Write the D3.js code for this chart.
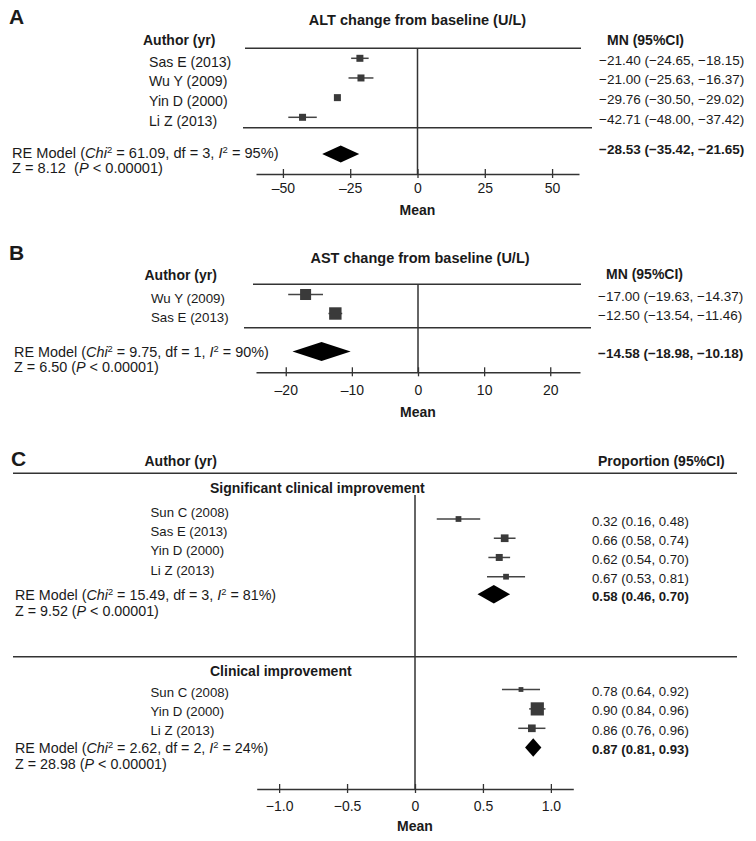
<!DOCTYPE html>
<html><head><meta charset="utf-8">
<script src="https://cdn.jsdelivr.net/npm/d3@7"></script>
<style>
body{margin:0;background:#fff}
text{font-family:"Liberation Sans",Arial,Helvetica,sans-serif;fill:#1a1a1a}
</style>
</head><body>
<svg id="chart" width="756" height="841"></svg>
<script>
// ---------- Panel A: ALT ----------
const studiesA = ["Sas E (2013)", "Wu Y (2009)", "Yin D (2000)", "Li Z (2013)"];
const meanA   = [-21.40, -21.00, -29.76, -42.71];
const lowerA  = [-24.65, -25.63, -30.50, -48.00];
const upperA  = [-18.15, -16.37, -29.02, -37.42];
const weightA = [25, 25, 25, 25];
const pooledA = [-28.53, -35.42, -21.65];
const hetA    = ["61.09", "3", "95%"];
const zA      = "8.12";
const ticksA  = [-50, -25, 0, 25, 50];

// ---------- Panel B: AST ----------
const studiesB = ["Wu Y (2009)", "Sas E (2013)"];
const meanB   = [-17.00, -12.50];
const lowerB  = [-19.63, -13.54];
const upperB  = [-14.37, -11.46];
const weightB = [44, 56];
const pooledB = [-14.58, -18.98, -10.18];
const hetB    = ["9.75", "1", "90%"];
const zB      = "6.50";
const ticksB  = [-20, -10, 0, 10, 20];

// ---------- Panel C1: Significant clinical improvement ----------
const studiesC1 = ["Sun C (2008)", "Sas E (2013)", "Yin D (2000)", "Li Z (2013)"];
const meanC1   = [0.32, 0.66, 0.62, 0.67];
const lowerC1  = [0.16, 0.58, 0.54, 0.53];
const upperC1  = [0.48, 0.74, 0.70, 0.81];
const weightC1 = [19, 34, 28, 19];
const pooledC1 = [0.58, 0.46, 0.70];
const hetC1    = ["15.49", "3", "81%"];
const zC1      = "9.52";

// ---------- Panel C2: Clinical improvement ----------
const studiesC2 = ["Sun C (2008)", "Yin D (2000)", "Li Z (2013)"];
const meanC2   = [0.78, 0.90, 0.86];
const lowerC2  = [0.64, 0.84, 0.76];
const upperC2  = [0.92, 0.96, 0.96];
const weightC2 = [9, 68, 23];
const pooledC2 = [0.87, 0.81, 0.93];
const hetC2    = ["2.62", "2", "24%"];
const zC2      = "28.98";
const ticksC   = [-1.0, -0.5, 0, 0.5, 1.0];

const pText = "0.00001";

// ---------- helpers ----------
const svg = d3.select("#chart");
const FONT = '"Liberation Sans",Arial,Helvetica,sans-serif';
const minus = s => s.replace(/-/g, "\u2013");
const f2 = v => minus(d3.format(".2f")(v));
const ciLabel = (m, l, u) => `${f2(m)} (${f2(l)}, ${f2(u)})`;
const LINE = "#333";

function txt(x, y, s, opts = {}) {
  return svg.append("text").attr("x", x).attr("y", y)
    .attr("font-size", opts.size || 14)
    .attr("font-weight", opts.bold ? "bold" : null)
    .attr("text-anchor", opts.anchor || "start")
    .text(s);
}

function reText(x, y, het, size) {
  const t = svg.append("text").attr("x", x).attr("y", y).attr("font-size", size);
  t.append("tspan").text("RE Model (");
  t.append("tspan").attr("font-style", "italic").text("Chi");
  t.append("tspan").attr("font-size", size * 0.65).attr("dy", -5).text("2");
  t.append("tspan").attr("dy", 5).text(` = ${het[0]}, df = ${het[1]}, `);
  t.append("tspan").attr("font-style", "italic").text("I");
  t.append("tspan").attr("font-size", size * 0.65).attr("dy", -5).text("2");
  t.append("tspan").attr("dy", 5).text(` = ${het[2]})`);
}
function zText(x, y, z, gap, size) {
  const t = svg.append("text").attr("x", x).attr("y", y).attr("font-size", size);
  t.append("tspan").text(`Z = ${z}${gap}(`);
  t.append("tspan").attr("font-style", "italic").text("P");
  t.append("tspan").text(` < ${pText})`);
}

function hline(x1, x2, y) {
  svg.append("line").attr("x1", x1).attr("x2", x2).attr("y1", y).attr("y2", y)
    .attr("stroke", LINE).attr("stroke-width", 1.5);
}
function vline(x, y1, y2) {
  svg.append("line").attr("x1", x).attr("x2", x).attr("y1", y1).attr("y2", y2)
    .attr("stroke", LINE).attr("stroke-width", 1.5);
}

function studies(x, yScale, names, mean, lo, hi, w, sizeMax, labelX, valueX, labelShift, labelSize, valueSize) {
  const size = d3.scaleSqrt().domain([0, 100]).range([0, sizeMax]);
  const g = svg.append("g");
  names.forEach((n, i) => {
    const y = yScale(n);
    g.append("line").attr("x1", x(lo[i])).attr("x2", x(hi[i]))
      .attr("y1", y).attr("y2", y).attr("stroke", "#444").attr("stroke-width", 1.5);
    const s = size(w[i]);
    g.append("rect").attr("x", x(mean[i]) - s / 2).attr("y", y - s / 2)
      .attr("width", s).attr("height", s).attr("fill", "#3a3a3a");
    txt(labelX, y + 6.5 + labelShift, n, { size: labelSize });
    txt(valueX, y + 6.5, ciLabel(mean[i], lo[i], hi[i]), { size: valueSize });
  });
}

function diamond(x, y, pooled, h) {
  const pts = [[x(pooled[1]), y], [x(pooled[0]), y - h / 2], [x(pooled[2]), y], [x(pooled[0]), y + h / 2]];
  svg.append("path").attr("d", d3.line()(pts) + "Z").attr("fill", "#000");
}

function axis(x, y, ticks, fmt, pad) {
  const ax = d3.axisBottom(x).tickValues(ticks).tickFormat(fmt)
    .tickSizeOuter(0).tickSizeInner(4).tickPadding(pad);
  const a = svg.append("g").attr("transform", `translate(0,${y})`).call(ax)
    .attr("font-family", FONT).attr("font-size", 14);
  a.select(".domain").attr("stroke", LINE).attr("stroke-width", 1.5);
  a.selectAll(".tick line").attr("y1", -5).attr("y2", 4).attr("stroke", LINE).attr("stroke-width", 1.3);
  a.selectAll(".tick text").attr("fill", "#1a1a1a");
}

// ================= Panel A =================
{
  const x = d3.scaleLinear().domain([-60, 60]).range([256, 579]);
  const y = d3.scalePoint().domain(studiesA).range([58.3, 117.3]);
  txt(9, 24, "A", { size: 21, bold: true });
  txt(x(0), 25, "ALT change from baseline (U/L)", { bold: true, anchor: "middle", size: 14.5 });
  txt(143, 44.5, "Author (yr)", { bold: true });
  txt(607, 44.5, "MN (95%CI)", { bold: true });
  hline(245, 581, 48.3);
  hline(243, 592, 127.7);
  vline(x(0), 48.3, 174);
  studies(x, y, studiesA, meanA, lowerA, upperA, weightA, 14, 149, 599, 2, 14.1, 13.5);
  diamond(x, 154, pooledA, 17);
  txt(599, 153.5, ciLabel(...pooledA), { bold: true, size: 13.5 });
  reText(12, 158, hetA, 14.6);
  zText(12, 173, zA, "\u00a0 ", 14.6);
  axis(x, 174, ticksA, d => minus(String(d)), 5.5);
  txt(x(0), 214.5, "Mean", { bold: true, anchor: "middle" });
}

// ================= Panel B =================
{
  const x = d3.scaleLinear().domain([-24.5, 24.5]).range([256, 580]);
  const y = d3.scalePoint().domain(studiesB).range([294.5, 313.5]);
  txt(9, 259.5, "B", { size: 21, bold: true });
  txt(x(0) + 2, 263, "AST change from baseline (U/L)", { bold: true, anchor: "middle", size: 14.5 });
  txt(144.5, 280, "Author (yr)", { bold: true });
  txt(606, 279, "MN (95%CI)", { bold: true });
  hline(253, 581, 284.3);
  hline(244, 591, 327.7);
  vline(x(0), 284.3, 372.3);
  studies(x, y, studiesB, meanB, lowerB, upperB, weightB, 16.6, 151, 598, 1.5, 13.3, 13.5);
  diamond(x, 351.5, pooledB, 19);
  txt(598, 358, ciLabel(...pooledB), { bold: true, size: 13.5 });
  reText(14, 356.5, hetB, 14.4);
  zText(14, 371.5, zB, " ", 14.4);
  axis(x, 372.3, ticksB, d => minus(String(d)), 9);
  txt(x(0), 417, "Mean", { bold: true, anchor: "middle" });
}

// ================= Panel C =================
{
  const x = d3.scaleLinear().domain([-1.165, 1.165]).range([256.7, 573.3]);
  const y1 = d3.scalePoint().domain(studiesC1).range([519, 576.7]);
  const y2 = d3.scalePoint().domain(studiesC2).range([689.5, 728.3]);
  txt(11, 465.5, "C", { size: 21, bold: true });
  txt(144.5, 466, "Author (yr)", { bold: true });
  txt(598, 465.5, "Proportion (95%CI)", { bold: true });
  hline(13, 737, 473.3);
  txt(210, 493, "Significant clinical improvement", { bold: true });
  vline(x(0), 495, 789);
  studies(x, y1, studiesC1, meanC1, lowerC1, upperC1, weightC1, 13.2, 150.5, 592, -8.5, 13.2, 13.2);
  diamond(x, 594.3, pooledC1, 18.5);
  txt(592, 601, ciLabel(...pooledC1), { bold: true, size: 13.2 });
  reText(15, 599.5, hetC1, 14.3);
  zText(15, 615.5, zC1, " ", 14.3);

  hline(13, 737, 656.7);
  txt(210, 676, "Clinical improvement", { bold: true });
  studies(x, y2, studiesC2, meanC2, lowerC2, upperC2, weightC2, 16, 150.5, 592, 0.5, 13.2, 13.2);
  diamond(x, 747.5, pooledC2, 18.3);
  txt(592, 753.5, ciLabel(...pooledC2), { bold: true, size: 13.2 });
  reText(15, 753, hetC2, 14.3);
  zText(15, 768.5, zC2, " ", 14.3);

  axis(x, 789, ticksC, d => d === 0 ? "0" : minus(d3.format(".1f")(d)), 8.5);
  txt(x(0), 830.5, "Mean", { bold: true, anchor: "middle" });
}
</script>
</body></html>
